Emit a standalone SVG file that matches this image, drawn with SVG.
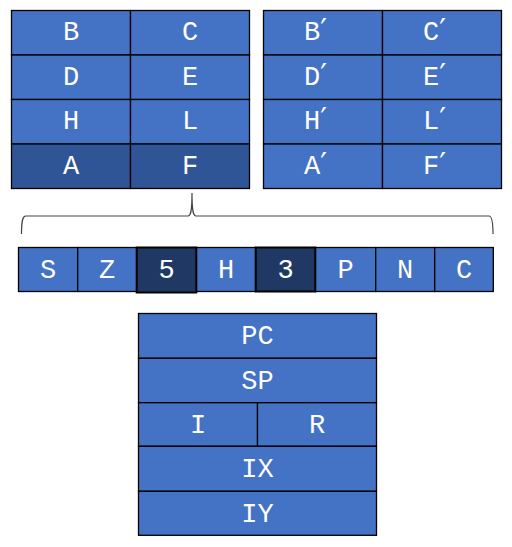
<svg xmlns="http://www.w3.org/2000/svg" width="512" height="547" viewBox="0 0 512 547">
<style>
.c{fill:#4472C4;stroke:#000;stroke-width:1.3}
.m{fill:#2F5597;stroke:#000;stroke-width:1.3}
.d{fill:#203864;stroke:#000;stroke-width:2}
text{font-family:"Liberation Mono","Courier New",monospace;font-size:27px;fill:#fff;text-anchor:middle}
text.s{text-anchor:start}
.p{font-family:"DejaVu Serif",serif;font-size:30px}
</style>
<rect width="512" height="547" fill="#fff"/>
<g id="regs-main">
<rect class="c" x="11.5" y="10.5" width="119" height="44.5"/><text x="71" y="40">B</text>
<rect class="c" x="130.5" y="10.5" width="119" height="44.5"/><text x="190" y="40">C</text>
<rect class="c" x="11.5" y="55" width="119" height="44.5"/><text x="71" y="84.5">D</text>
<rect class="c" x="130.5" y="55" width="119" height="44.5"/><text x="190" y="84.5">E</text>
<rect class="c" x="11.5" y="99.5" width="119" height="44.5"/><text x="71" y="129">H</text>
<rect class="c" x="130.5" y="99.5" width="119" height="44.5"/><text x="190" y="129">L</text>
<rect class="m" x="11.5" y="144" width="119" height="44.5"/><text x="71" y="173.5">A</text>
<rect class="m" x="130.5" y="144" width="119" height="44.5"/><text x="190" y="173.5">F</text>
</g>
<g id="regs-alt">
<rect class="c" x="263.5" y="10.5" width="119" height="44.5"/><text class="s" x="304" y="40">B<tspan class="p">′</tspan></text>
<rect class="c" x="382.5" y="10.5" width="119" height="44.5"/><text class="s" x="423" y="40">C<tspan class="p">′</tspan></text>
<rect class="c" x="263.5" y="55" width="119" height="44.5"/><text class="s" x="304" y="84.5">D<tspan class="p">′</tspan></text>
<rect class="c" x="382.5" y="55" width="119" height="44.5"/><text class="s" x="423" y="84.5">E<tspan class="p">′</tspan></text>
<rect class="c" x="263.5" y="99.5" width="119" height="44.5"/><text class="s" x="304" y="129">H<tspan class="p">′</tspan></text>
<rect class="c" x="382.5" y="99.5" width="119" height="44.5"/><text class="s" x="423" y="129">L<tspan class="p">′</tspan></text>
<rect class="c" x="263.5" y="144" width="119" height="44.5"/><text class="s" x="304" y="173.5">A<tspan class="p">′</tspan></text>
<rect class="c" x="382.5" y="144" width="119" height="44.5"/><text class="s" x="423" y="173.5">F<tspan class="p">′</tspan></text>
</g>
<g id="connectors">
<path d="M21.5,234 C21.5,223 22,216 26,216 L188,216 C190.5,216 192,213 192,193 C192,213 193.5,216 196,216 L489,216 C492,216 493,223 493,234" fill="none" stroke="#444" stroke-width="1.2"/>
</g>
<g id="flags">
<rect class="c" x="18.5" y="247.5" width="59.2" height="44"/><text x="48" y="277.5">S</text>
<rect class="c" x="77.7" y="247.5" width="59" height="44"/><text x="107" y="277.5">Z</text>
<rect class="c" x="196.3" y="247.5" width="59.4" height="44"/><text x="226" y="277.5">H</text>
<rect class="c" x="315.3" y="247.5" width="60.4" height="44"/><text x="345.5" y="277.5">P</text>
<rect class="c" x="375.7" y="247.5" width="59" height="44"/><text x="405" y="277.5">N</text>
<rect class="c" x="434.7" y="247.5" width="58.6" height="44"/><text x="464" y="277.5">C</text>
<rect class="d" x="136.7" y="247.5" width="59.6" height="45"/><text x="166.5" y="277.5">5</text>
<rect class="d" x="255.7" y="247.5" width="59.6" height="44"/><text x="285.5" y="277.5">3</text>
</g>
<g id="regs-special">
<rect class="c" x="138.5" y="313.5" width="238" height="44.8"/><text x="257.5" y="344">PC</text>
<rect class="c" x="138.5" y="358.3" width="238" height="44.4"/><text x="257.5" y="388.5">SP</text>
<rect class="c" x="138.5" y="402.7" width="119" height="43.6"/><text x="198" y="432.5">I</text>
<rect class="c" x="257.5" y="402.7" width="119" height="43.6"/><text x="317" y="432.5">R</text>
<rect class="c" x="138.5" y="446.3" width="238" height="45"/><text x="257.5" y="476.5">IX</text>
<rect class="c" x="138.5" y="491.3" width="238" height="44"/><text x="257.5" y="521.5">IY</text>
</g>
</svg>
